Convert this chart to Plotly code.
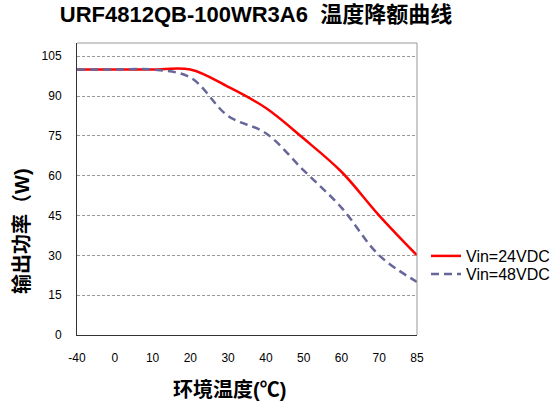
import plotly.graph_objects as go

categories = ["-40", "0", "10", "20", "30", "40", "50", "60", "70", "85"]
vin24 = [100, 100, 100, 100, 93.5, 85.5, 74, 61.5, 45, 30]
vin48 = [100, 100, 100, 97, 82.5, 76, 62, 48, 30, 20]
y_ticks = [0, 15, 30, 45, 60, 75, 90, 105]

title_text = "URF4812QB-100WR3A6\u00a0\u00a0温度降额曲线"
x_title = "环境温度(℃)"
y_title = "输出功率（W)"

FONT = "Liberation Sans, Arial, Noto Sans CJK SC, sans-serif"

W, H = 557, 405
PL, PR, PT, PB = 77, 417, 43, 335  # plot area in pixels


def px_x(sx):
    return (sx - PL) / (PR - PL)


def px_y(sy):
    return (PB - sy) / (PB - PT)


fig = go.Figure()
fig.add_trace(go.Scatter(
    x=categories, y=vin24, mode="lines", name="Vin=24VDC", legend="legend",
    line=dict(color="#FF0000", width=2.5, shape="spline", smoothing=1.0),
))
fig.add_trace(go.Scatter(
    x=categories, y=vin48, mode="lines", name="Vin=48VDC", legend="legend2",
    line=dict(color="#666699", width=2.5, shape="spline", smoothing=1.0, dash="8px,5px"),
))

leg_common = dict(xanchor="left", yanchor="middle", font=dict(family=FONT, size=16, color="#000000"),
                  bgcolor="rgba(0,0,0,0)", borderwidth=0)

fig.update_layout(
    width=W, height=H,
    margin=dict(l=PL, r=W - PR, t=PT, b=H - PB, autoexpand=False),
    paper_bgcolor="white", plot_bgcolor="white",
    font=dict(family=FONT, size=12, color="#000000"),
    title=dict(text="<b>" + title_text + "</b>", x=256 / W, xanchor="center",
               y=1 - 14 / H, yanchor="middle", yref="container",
               font=dict(family=FONT, size=22, color="#000000")),
    showlegend=True,
    legend=dict(x=px_x(426), y=px_y(256), **leg_common),
    legend2=dict(x=px_x(426), y=px_y(274), **leg_common),
    xaxis=dict(type="category", range=[0, len(categories) - 1],
               showgrid=False, zeroline=False,
               showline=True, linecolor="#333333", linewidth=1,
               ticks="outside", ticklen=12, tickcolor="rgba(0,0,0,0)",
               tickfont=dict(size=12, color="#000000")),
    yaxis=dict(range=[0, 110], tickvals=y_ticks,
               showgrid=True, gridcolor="#999999", gridwidth=1, griddash="3px,2px",
               zeroline=False,
               showline=True, linecolor="#333333", linewidth=1,
               ticks="outside", ticklen=12, tickcolor="rgba(0,0,0,0)",
               tickfont=dict(size=12, color="#000000")),
    annotations=[
        dict(text="<b>" + x_title + "</b>", xref="paper", yref="paper",
             x=px_x(229), y=px_y(389), xanchor="center", yanchor="middle",
             showarrow=False, font=dict(family=FONT, size=20, color="#000000")),
        dict(text="<b>" + y_title + "</b>", xref="paper", yref="paper",
             x=px_x(22), y=px_y(231), xanchor="center", yanchor="middle",
             textangle=-90, showarrow=False, font=dict(family=FONT, size=20, color="#000000")),
    ],
    shapes=[
        dict(type="line", xref="paper", yref="paper", x0=0, x1=1, y0=1, y1=1,
             line=dict(color="#999999", width=1)),
        dict(type="line", xref="paper", yref="paper", x0=1, x1=1, y0=0, y1=1,
             line=dict(color="#999999", width=1)),
    ],
)

fig.write_html(
    "out.html",
    config={"displayModeBar": False},
    post_script="document.body.style.margin='0';document.body.style.overflow='hidden';",
)
